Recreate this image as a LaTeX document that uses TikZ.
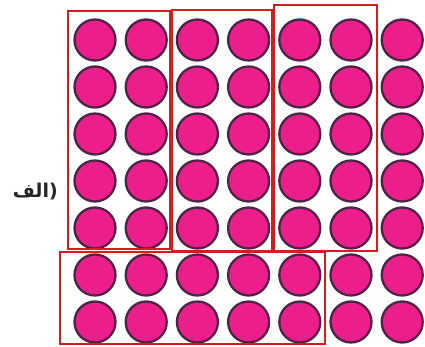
\documentclass[tikz,border=0pt]{standalone}
\usepackage{fontspec}
\newfontfamily\arabicfont[Script=Arabic]{DejaVu Sans}
\newfontfamily\labfont{DejaVu Sans}
\TeXXeTstate=1
\definecolor{dotfill}{RGB}{236,30,140}
\definecolor{dotedge}{RGB}{80,35,70}
\definecolor{boxred}{RGB}{210,30,30}
\tikzset{
  dot/.style={circle, fill=dotfill, draw=dotedge, line width=2.3pt, minimum size=41pt, inner sep=0pt},
  grp/.style={rectangle, draw=boxred, line width=1.6pt, inner sep=0pt, outer sep=0pt},
}
\begin{document}
\begin{tikzpicture}[x=1pt,y=-1pt]
\useasboundingbox (0,0) rectangle (425,347);
\foreach \i in {0,...,6}{
  \foreach \j in {0,...,6}{
    \node[dot] (c-\i-\j) at ({95+51.2*\i},{40+47*\j}) {};
  }
}
\node[grp, minimum width=102pt, minimum height=238pt] (g1) at (119,130) {};
\node[grp, minimum width=100pt, minimum height=241pt] (g2) at (222,130.5) {};
\node[grp, minimum width=103pt, minimum height=246pt] (g3) at (325.5,128) {};
\node[grp, minimum width=265pt, minimum height=92pt] (g4) at (192.5,298) {};
\node[anchor=east, inner sep=0pt, text=black!85, font=\fontsize{19}{22}\selectfont] (lab) at (58,192) {\textbf{\arabicfont\beginR الف\endR}\textbf{\labfont )}};
\end{tikzpicture}
\end{document}
